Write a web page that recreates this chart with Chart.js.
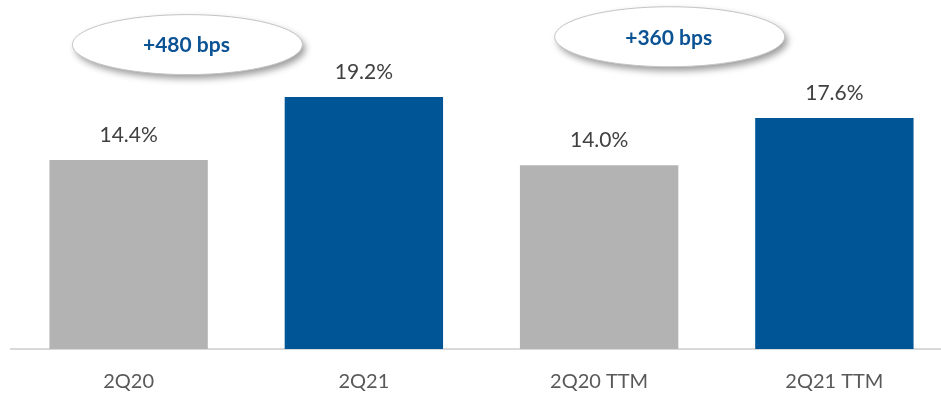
<!DOCTYPE html>
<html>
<head>
<meta charset="utf-8">
<script src="https://cdn.jsdelivr.net/npm/chart.js@4/dist/chart.umd.min.js"></script>
<style>
  html, body { margin: 0; padding: 0; background: #fff; overflow: hidden; }
  #wrap { position: relative; width: 952px; height: 394px; }
</style>
</head>
<body>
<div id="wrap"><canvas id="margin-chart"></canvas></div>
<script>
  // margin by period, in percent
  const categories = ['2Q20', '2Q21', '2Q20 TTM', '2Q21 TTM'];
  const marginValues = [14.4, 19.2, 14.0, 17.6];
  const barColors = ['#b3b3b3', '#005597', '#b3b3b3', '#005597'];

  // change callouts over each pair of bars
  const callouts = ['+480 bps', '+360 bps'];
  const calloutSpots = [
    { x: 0.25, y: 23.2 },
    { x: 2.3, y: 23.8 }
  ];

  const FONT = 'Lato, "Open Sans", sans-serif';

  function formatPct(v) {
    return `${v.toFixed(1)}%`;
  }

  const labelsPlugin = {
    id: 'valueLabels',
    afterDatasetsDraw(chart) {
      const ctx = chart.ctx;
      const meta = chart.getDatasetMeta(0);
      ctx.save();
      ctx.fillStyle = '#404040';
      ctx.font = `21px ${FONT}`;
      ctx.textAlign = 'center';
      ctx.textBaseline = 'middle';
      meta.data.forEach((bar, i) => {
        ctx.fillText(formatPct(marginValues[i]), bar.x, bar.y - 25);
      });
      ctx.restore();
    }
  };

  const calloutPlugin = {
    id: 'callouts',
    afterDraw(chart) {
      const ctx = chart.ctx;
      const xs = chart.scales.x;
      const ys = chart.scales.y;
      callouts.forEach((text, i) => {
        const cx = xs.getPixelForValue(calloutSpots[i].x);
        const cy = ys.getPixelForValue(calloutSpots[i].y);
        ctx.save();
        ctx.shadowColor = 'rgba(0,0,0,0.4)';
        ctx.shadowBlur = 7;
        ctx.shadowOffsetX = 3;
        ctx.shadowOffsetY = 4;
        ctx.beginPath();
        ctx.ellipse(cx, cy, 115, 30, 0, 0, Math.PI * 2);
        ctx.fillStyle = '#ffffff';
        ctx.fill();
        ctx.restore();

        ctx.save();
        ctx.beginPath();
        ctx.ellipse(cx, cy, 115, 30, 0, 0, Math.PI * 2);
        ctx.strokeStyle = '#c4c4c4';
        ctx.lineWidth = 1;
        ctx.stroke();
        ctx.fillStyle = '#0b5394';
        ctx.font = `bold 21px ${FONT}`;
        ctx.textAlign = 'center';
        ctx.textBaseline = 'middle';
        ctx.fillText(text, cx - 1, cy + 1);
        ctx.restore();
      });
    }
  };

  new Chart(document.getElementById('margin-chart'), {
    type: 'bar',
    data: {
      labels: categories,
      datasets: [{
        data: marginValues,
        backgroundColor: barColors,
        borderWidth: 0,
        barPercentage: 0.9,
        categoryPercentage: 0.748
      }]
    },
    options: {
      responsive: true,
      maintainAspectRatio: false,
      animation: false,
      layout: { padding: { left: 11, right: 0, top: 0, bottom: -21 } },
      plugins: {
        legend: { display: false },
        tooltip: { enabled: false }
      },
      scales: {
        y: {
          display: false,
          min: 0,
          max: 26.6
        },
        x: {
          grid: { display: false, drawTicks: false },
          border: { color: '#d9d9d9', width: 2 },
          ticks: {
            color: '#595959',
            font: { family: FONT, size: 20 },
            padding: 21
          }
        }
      }
    },
    plugins: [labelsPlugin, calloutPlugin]
  });
</script>
</body>
</html>
